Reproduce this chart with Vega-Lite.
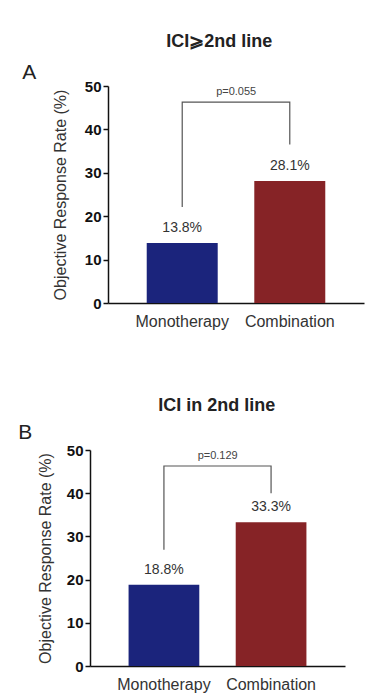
{
  "$schema": "https://vega.github.io/schema/vega-lite/v6.json",
  "padding": {"left": 18, "top": 32, "right": 10, "bottom": 5},
  "background": "white",
  "config": {
    "font": "Liberation Sans",
    "view": {"stroke": null},
    "axis": {"grid": false, "domainColor": "#111", "domainWidth": 1.5, "tickColor": "#111", "tickWidth": 1.5},
    "title": {"font": "Liberation Sans"}
  },
  "datasets": {
    "barsA": [
      {"group": "Monotherapy", "rate": 13.8, "label": "13.8%"},
      {"group": "Combination", "rate": 28.1, "label": "28.1%"}
    ],
    "bracketA": [
      {"group": "Monotherapy", "y": 22.1, "order": 1},
      {"group": "Monotherapy", "y": 46.3, "order": 2},
      {"group": "Combination", "y": 46.3, "order": 3},
      {"group": "Combination", "y": 36.5, "order": 4}
    ],
    "pA": [{"group": "Monotherapy", "y": 46.3, "text": "p=0.055"}],
    "barsB": [
      {"group": "Monotherapy", "rate": 18.8, "label": "18.8%"},
      {"group": "Combination", "rate": 33.3, "label": "33.3%"}
    ],
    "bracketB": [
      {"group": "Monotherapy", "y": 26.9, "order": 1},
      {"group": "Monotherapy", "y": 46.3, "order": 2},
      {"group": "Combination", "y": 46.3, "order": 3},
      {"group": "Combination", "y": 40.0, "order": 4}
    ],
    "pB": [{"group": "Monotherapy", "y": 46.3, "text": "p=0.129"}],
    "none": []
  },
  "spacing": 67,
  "vconcat": [
    {
      "bounds": "flush",
      "spacing": 17,
      "hconcat": [
        {
          "width": 1,
          "height": 1,
          "data": {"name": "none"},
          "mark": {"type": "point", "opacity": 0},
          "encoding": {}
        },
        {
          "title": {"text": "ICI⩾2nd line", "anchor": "middle", "fontSize": 18, "fontWeight": "bold", "color": "#222", "dx": 26, "offset": 11.5},
          "vconcat": [
            {
              "title": {"text": "A", "anchor": "start", "frame": "bounds", "fontSize": 21, "fontWeight": "normal", "color": "#222", "dx": -30, "offset": -4},
              "width": 256,
              "height": 217,
              "layer": [
                {
                  "data": {"name": "barsA"},
                  "mark": {"type": "bar"},
                  "encoding": {
                    "x": {"field": "group", "type": "nominal", "sort": ["Monotherapy", "Combination"],
                      "scale": {"paddingInner": 0.34, "paddingOuter": 0.36},
                      "axis": {"title": null, "labelAngle": 0, "labelFontSize": 16, "labelColor": "#333", "ticks": false, "labelPadding": 10}},
                    "y": {"field": "rate", "type": "quantitative", "scale": {"domain": [0, 50], "nice": false},
                      "axis": {"title": "Objective Response Rate (%)", "values": [0, 10, 20, 30, 40, 50], "labelFontSize": 15, "labelFontWeight": "bold", "labelColor": "#111", "tickSize": 5, "labelPadding": 2, "titleFontSize": 16, "titleFontWeight": "normal", "titleColor": "#333", "titlePadding": 16}},
                    "color": {"field": "group", "type": "nominal", "scale": {"domain": ["Monotherapy", "Combination"], "range": ["#1b247c", "#862326"]}, "legend": null}
                  }
                },
                {
                  "data": {"name": "barsA"},
                  "mark": {"type": "text", "baseline": "bottom", "dy": -8, "fontSize": 14, "color": "#333"},
                  "encoding": {
                    "x": {"field": "group", "type": "nominal", "sort": ["Monotherapy", "Combination"]},
                    "y": {"field": "rate", "type": "quantitative"},
                    "text": {"field": "label"}
                  }
                },
                {
                  "data": {"name": "bracketA"},
                  "mark": {"type": "line", "color": "#555", "strokeWidth": 1.2},
                  "encoding": {
                    "x": {"field": "group", "type": "nominal", "sort": ["Monotherapy", "Combination"]},
                    "y": {"field": "y", "type": "quantitative"},
                    "order": {"field": "order", "type": "quantitative"}
                  }
                },
                {
                  "data": {"name": "pA"},
                  "mark": {"type": "text", "baseline": "bottom", "dy": -5, "fontSize": 11, "color": "#444"},
                  "encoding": {
                    "x": {"field": "group", "type": "nominal", "sort": ["Monotherapy", "Combination"], "bandPosition": 1.26},
                    "y": {"field": "y", "type": "quantitative"},
                    "text": {"field": "text"}
                  }
                }
              ]
            }
          ]
        }
      ]
    },
    {
      "title": {"text": "ICI in 2nd line", "anchor": "middle", "fontSize": 18, "fontWeight": "bold", "color": "#222", "dx": 35, "offset": 7.5},
      "vconcat": [
        {
          "title": {"text": "B", "anchor": "start", "frame": "bounds", "fontSize": 21, "fontWeight": "normal", "color": "#222", "dx": -19, "offset": 0},
          "width": 255,
          "height": 216,
          "layer": [
            {
              "data": {"name": "barsB"},
              "mark": {"type": "bar"},
              "encoding": {
                "x": {"field": "group", "type": "nominal", "sort": ["Monotherapy", "Combination"],
                  "scale": {"paddingInner": 0.34, "paddingOuter": 0.36},
                  "axis": {"title": null, "labelAngle": 0, "labelFontSize": 16, "labelColor": "#333", "ticks": false, "labelPadding": 10}},
                "y": {"field": "rate", "type": "quantitative", "scale": {"domain": [0, 50], "nice": false},
                  "axis": {"title": "Objective Response Rate (%)", "values": [0, 10, 20, 30, 40, 50], "labelFontSize": 15, "labelFontWeight": "bold", "labelColor": "#111", "tickSize": 5, "labelPadding": 2, "titleFontSize": 16, "titleFontWeight": "normal", "titleColor": "#333", "titlePadding": 13}},
                "color": {"field": "group", "type": "nominal", "scale": {"domain": ["Monotherapy", "Combination"], "range": ["#1b247c", "#862326"]}, "legend": null}
              }
            },
            {
              "data": {"name": "barsB"},
              "mark": {"type": "text", "baseline": "bottom", "dy": -8, "fontSize": 14, "color": "#333"},
              "encoding": {
                "x": {"field": "group", "type": "nominal", "sort": ["Monotherapy", "Combination"]},
                "y": {"field": "rate", "type": "quantitative"},
                "text": {"field": "label"}
              }
            },
            {
              "data": {"name": "bracketB"},
              "mark": {"type": "line", "color": "#555", "strokeWidth": 1.2},
              "encoding": {
                "x": {"field": "group", "type": "nominal", "sort": ["Monotherapy", "Combination"]},
                "y": {"field": "y", "type": "quantitative"},
                "order": {"field": "order", "type": "quantitative"}
              }
            },
            {
              "data": {"name": "pB"},
              "mark": {"type": "text", "baseline": "bottom", "dy": -5, "fontSize": 11, "color": "#444"},
              "encoding": {
                "x": {"field": "group", "type": "nominal", "sort": ["Monotherapy", "Combination"], "bandPosition": 1.26},
                "y": {"field": "y", "type": "quantitative"},
                "text": {"field": "text"}
              }
            }
          ]
        }
      ]
    }
  ]
}
